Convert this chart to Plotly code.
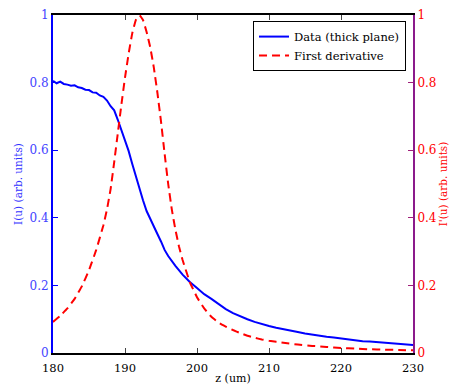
import plotly.graph_objects as go

z_data = [180, 180.5, 181, 181.5, 182, 182.5, 183, 183.5, 184, 184.5, 185, 185.5, 186, 186.5, 187, 187.5,
          188, 188.5, 189, 189.5, 190, 190.5, 191, 191.5, 192, 192.5, 193, 193.5, 194, 194.5, 195, 195.5,
          196, 196.5, 197, 198, 199, 200, 201, 202, 203, 204, 205, 206, 207, 208, 209, 210, 211, 212, 213,
          214, 215, 216, 217, 218, 219, 220, 221, 222, 223, 224, 225, 226, 227, 228, 229, 230]
i_data = [0.805, 0.798, 0.803, 0.796, 0.794, 0.791, 0.792, 0.786, 0.784, 0.779, 0.778, 0.771, 0.770, 0.762,
          0.758, 0.747, 0.730, 0.718, 0.690, 0.660, 0.630, 0.598, 0.560, 0.522, 0.486, 0.452, 0.420, 0.396,
          0.372, 0.352, 0.330, 0.305, 0.287, 0.272, 0.258, 0.232, 0.210, 0.192, 0.174, 0.160, 0.145, 0.130,
          0.118, 0.108, 0.100, 0.092, 0.085, 0.080, 0.075, 0.070, 0.066, 0.062, 0.058, 0.054, 0.051, 0.048,
          0.046, 0.043, 0.040, 0.038, 0.035, 0.034, 0.032, 0.030, 0.029, 0.027, 0.026, 0.024]

z_deriv = [180, 181, 182, 183, 184, 185, 186, 187, 187.5, 188, 188.5, 189, 189.5, 190, 190.5, 191, 191.5,
           192, 192.5, 193, 193.5, 194, 194.5, 195, 195.5, 196, 196.5, 197, 197.5, 198, 199, 200, 201, 202,
           203, 204, 205, 206, 207, 208, 209, 210, 212, 214, 216, 218, 220, 222, 224, 226, 228, 230]
d_deriv = [0.092, 0.110, 0.132, 0.160, 0.197, 0.245, 0.305, 0.378, 0.425, 0.485, 0.565, 0.650, 0.735, 0.815,
           0.885, 0.945, 0.985, 1.0, 0.985, 0.950, 0.905, 0.845, 0.770, 0.685, 0.590, 0.500, 0.425, 0.365,
           0.315, 0.275, 0.210, 0.165, 0.132, 0.107, 0.090, 0.078, 0.068, 0.059, 0.051, 0.045, 0.040, 0.036,
           0.030, 0.025, 0.021, 0.018, 0.015, 0.013, 0.011, 0.010, 0.009, 0.008]

x_ticks = [180, 190, 200, 210, 220, 230]
y_ticks = [0, 0.2, 0.4, 0.6, 0.8, 1]
y_ticklabels = ["0", "0.2", "0.4", "0.6", "0.8", "1"]

FONT = "DejaVu Serif"
BLUE = "#0000ff"
RED = "#ff0000"

fig = go.Figure()
fig.add_trace(go.Scatter(x=z_data, y=i_data, mode="lines", name="Data (thick plane)",
                         line=dict(color=BLUE, width=2), yaxis="y"))
fig.add_trace(go.Scatter(x=z_deriv, y=d_deriv, mode="lines", name="First derivative",
                         line=dict(color=RED, width=2, dash="8px,5px", shape="spline", smoothing=0.3),
                         yaxis="y2"))

fig.update_layout(
    width=452, height=387,
    margin=dict(l=53, r=39, t=15, b=34, autoexpand=False),
    paper_bgcolor="white", plot_bgcolor="white",
    font=dict(family=FONT, size=12, color="black"),
    showlegend=True,
    legend=dict(x=0.9806, y=0.982, xanchor="right", yanchor="top",
                bgcolor="white", bordercolor="black", borderwidth=1,
                font=dict(family=FONT, size=11.5, color="black"),
                tracegroupgap=0, itemwidth=30),
    xaxis=dict(range=[180, 230], tickvals=x_ticks, ticks="inside", ticklen=5,
               showline=True, linecolor="black", linewidth=2, mirror="ticks",
               showgrid=False, zeroline=False, automargin=False, ticklabelstandoff=3,
               tickfont=dict(family=FONT, size=11.5, color="black"),
               title=dict(text="z (um)", font=dict(family=FONT, size=11, color="black"), standoff=1)),
    yaxis=dict(range=[0, 1], tickvals=y_ticks, ticktext=y_ticklabels, ticks="inside", ticklen=5,
               tickcolor=BLUE, showline=True, linecolor=BLUE, linewidth=2,
               showgrid=False, zeroline=False, automargin=False,
               tickfont=dict(family=FONT, size=12, color="#4444ff"),
               title=dict(text="I(u) (arb. units)", font=dict(family=FONT, size=10.5, color="#3333ff"), standoff=5)),
    yaxis2=dict(range=[0, 1], tickvals=y_ticks, ticktext=y_ticklabels, ticks="inside", ticklen=5,
                tickcolor="#a0207a", overlaying="y", side="right", showline=True,
                linecolor="#8b1a8b", linewidth=2, showgrid=False, zeroline=False, automargin=False,
                tickfont=dict(family=FONT, size=12, color=RED),
                title=dict(text="I'(u) (arb. units)", font=dict(family=FONT, size=10.5, color=RED), standoff=4)),
)

fig.write_html("out.html")
